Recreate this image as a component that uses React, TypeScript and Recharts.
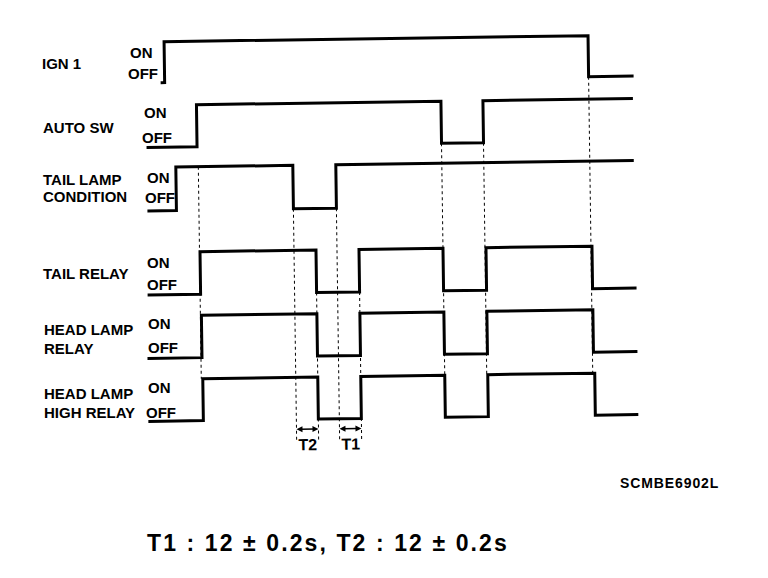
import React from "react";
import { LineChart, Line, XAxis, YAxis, ReferenceLine } from "recharts";

// transition times (time axis) and ON(1)/OFF(0) states
const IGN1_T = [163, 167, 591, 636];
const IGN1_S = [0, 1, 0, 0];
const AUTO_T = [148, 198.5, 443, 485, 635];
const AUTO_S = [0, 1, 0, 1, 1];
const COND_T = [148, 177, 294, 337, 635];
const COND_S = [0, 1, 0, 1, 1];
const TAIL_T = [147, 200, 316, 359, 443, 486, 592, 636];
const TAIL_S = [0, 1, 0, 1, 0, 1, 0, 0];
const HEAD_T = [146, 200.5, 316, 359, 443, 486, 592, 636];
const HEAD_S = [0, 1, 0, 1, 0, 1, 0, 0];
const HIGH_T = [146, 201, 316, 359, 443, 486, 593, 636];
const HIGH_S = [0, 1, 0, 1, 0, 1, 0, 0];

const SIGNALS = ["IGN 1", "AUTO SW", "TAIL LAMP\nCONDITION", "TAIL RELAY", "HEAD LAMP\nRELAY", "HEAD LAMP\nHIGH RELAY"];
const T1_RANGE = [337, 359];
const T2_RANGE = [294, 316];
const GUIDE_TIMES = [199.5, 294, 316, 337, 359, 443, 485, 591];

// layout: y level of each row (ON / OFF)
const ROWS = [
  { on: 38.5, off: 79.5 },
  { on: 102, off: 144 },
  { on: 164, off: 207.5 },
  { on: 249, off: 291.5 },
  { on: 312.7, off: 355 },
  { on: 376, off: 418 },
];

const SERIES = [
  [IGN1_T, IGN1_S],
  [AUTO_T, AUTO_S],
  [COND_T, COND_S],
  [TAIL_T, TAIL_S],
  [HEAD_T, HEAD_S],
  [HIGH_T, HIGH_S],
].map(([ts, ss], r) => ts.map((t, i) => ({ t, y: ss[i] ? ROWS[r].on : ROWS[r].off })));

// where each dashed guide starts / ends
const GUIDE_SPAN: Record<number, [number, number]> = {
  199.5: [ROWS[2].on, ROWS[5].on],
  294: [ROWS[2].off, 440],
  316: [ROWS[3].off, 440],
  337: [ROWS[2].off, 440],
  359: [ROWS[3].off, 440],
  443: [ROWS[1].off, ROWS[5].on],
  485: [ROWS[1].off, ROWS[5].on],
  591: [ROWS[0].off, ROWS[5].on],
};

const font = "'Liberation Sans', Arial, sans-serif";

// name label, ON, OFF positions per row (left x, center y)
const LABEL_POS = [
  { x: 42, y: 63, lh: 18, onX: 130, onY: 52, offX: 128, offY: 73 },
  { x: 43, y: 127, lh: 18, onX: 144, onY: 112, offX: 142, offY: 137 },
  { x: 43, y: 188, lh: 17, onX: 147, onY: 177, offX: 145, offY: 197 },
  { x: 43, y: 273, lh: 18, onX: 147, onY: 262, offX: 147, offY: 284 },
  { x: 44, y: 338.5, lh: 19, onX: 148, onY: 323, offX: 148, offY: 347 },
  { x: 44, y: 402.5, lh: 19, onX: 148, onY: 387, offX: 146, offY: 412 },
];

function Txt({ x, y, children, size = 15, weight = 700, lh = 18, spacing = 0 }: any) {
  const multi = String(children).includes("\n");
  return (
    <div
      style={{
        position: "absolute",
        left: x,
        top: multi ? y - lh : y - size / 2,
        fontFamily: font,
        fontWeight: weight,
        fontSize: size,
        letterSpacing: spacing,
        lineHeight: multi ? `${lh}px` : `${size}px`,
        whiteSpace: "pre",
        color: "#000",
      }}
    >
      {children}
    </div>
  );
}

function Interval(props: any) {
  const { x1, x2, y1, name } = props;
  const h = 3;
  return (
    <g>
      <line x1={x1 + 4} x2={x2 - 4} y1={y1} y2={y1} stroke="#000" strokeWidth={1.5} />
      <polygon points={`${x1},${y1} ${x1 + 6},${y1 - h} ${x1 + 6},${y1 + h}`} fill="#000" />
      <polygon points={`${x2},${y1} ${x2 - 6},${y1 - h} ${x2 - 6},${y1 + h}`} fill="#000" />
      <text x={(x1 + x2) / 2} y={y1 + 21} textAnchor="middle" fontFamily={font} fontWeight={700} fontSize={16}>
        {name}
      </text>
    </g>
  );
}

export default function App() {
  return (
    <div style={{ position: "absolute", left: 0, top: 0, width: 768, height: 578, background: "#fff" }}>
      <div style={{ position: "absolute", left: 0, top: 0, transform: "rotate(-0.8deg)", transformOrigin: "390px 250px" }}>
        <LineChart width={768} height={578} margin={{ top: 0, right: 0, bottom: 0, left: 0 }}>
          <XAxis type="number" dataKey="t" domain={[0, 768]} hide allowDataOverflow />
          <YAxis type="number" dataKey="y" domain={[0, 578]} reversed hide allowDataOverflow />
          {GUIDE_TIMES.map((t) => (
            <ReferenceLine
              key={t}
              segment={[
                { x: t, y: GUIDE_SPAN[t][0] },
                { x: t, y: GUIDE_SPAN[t][1] },
              ]}
              stroke="#000"
              strokeWidth={1}
              strokeDasharray="3 3"
            />
          ))}
          {SERIES.map((d, i) => (
            <Line
              key={i}
              data={d}
              dataKey="y"
              type="stepAfter"
              stroke="#000"
              strokeWidth={3}
              dot={false}
              activeDot={false}
              isAnimationActive={false}
            />
          ))}
          {[
            { name: "T2", r: T2_RANGE },
            { name: "T1", r: T1_RANGE },
          ].map((iv) => (
            <ReferenceLine
              key={iv.name}
              segment={[
                { x: iv.r[0], y: 428 },
                { x: iv.r[1], y: 428 },
              ]}
              shape={(p: any) => <Interval {...p} name={iv.name} />}
            />
          ))}
        </LineChart>
      </div>
      {SIGNALS.map((s, i) => (
        <React.Fragment key={s}>
          <Txt x={LABEL_POS[i].x} y={LABEL_POS[i].y} lh={LABEL_POS[i].lh}>{s}</Txt>
          <Txt x={LABEL_POS[i].onX} y={LABEL_POS[i].onY}>ON</Txt>
          <Txt x={LABEL_POS[i].offX} y={LABEL_POS[i].offY}>OFF</Txt>
        </React.Fragment>
      ))}
      <Txt x={620} y={483} size={14} spacing={0.9}>SCMBE6902L</Txt>
      <Txt x={147} y={543} size={23} weight={700} spacing={2.1}>T1 : 12 ± 0.2s, T2 : 12 ± 0.2s</Txt>
    </div>
  );
}
